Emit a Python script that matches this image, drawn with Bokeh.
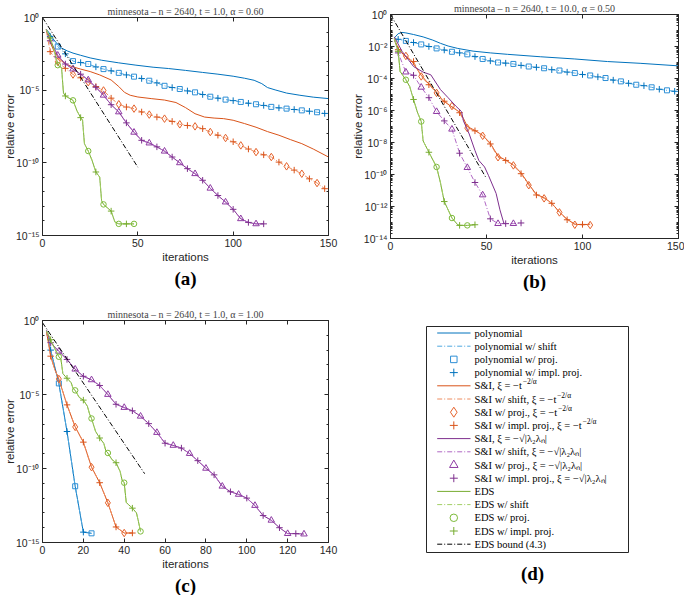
import math
from bokeh.plotting import figure
from bokeh.layouts import row, column
from bokeh.models import Range1d, FixedTicker, LinearAxis, Title, CustomJSTickFormatter
from bokeh.core.properties import value
from bokeh.embed import file_html
from bokeh.resources import INLINE

# ---------------- data (log10 of relative error) ----------------
A_TITLE = "minnesota – n = 2640, t = 1.0, α = 0.60"
B_TITLE = "minnesota – n = 2640, t = 10.0, α = 0.50"
C_TITLE = "minnesota – n = 2640, t = 1.0, α = 1.00"

# panel (a)
A_POLY_X = [2, 4, 6, 8, 10, 13, 16, 20, 25, 31, 40, 49, 58, 66, 75, 84, 92, 100, 106, 111, 115, 118, 122, 128, 135, 142, 150]
A_POLY_Y = [-0.8, -1.15, -1.55, -1.85, -2.1, -2.3, -2.45, -2.6, -2.78, -2.94, -3.12, -3.28, -3.42, -3.51, -3.64, -3.78, -3.9, -4.04, -4.18, -4.32, -4.55, -4.82, -4.98, -5.2, -5.35, -5.48, -5.58]
A_POLY_SX = [2] + list(range(4, 149, 4))
A_POLY_SY = [-0.8, -1.3, -2.0, -2.5, -3.0, -3.1, -3.2, -3.4, -3.55, -3.67, -3.81, -3.95, -4.07, -4.2, -4.35, -4.5, -4.7, -4.82, -4.92, -5.05, -5.15, -5.3, -5.45, -5.55, -5.65, -5.72, -5.81, -5.9, -5.97, -6.05, -6.15, -6.22, -6.27, -6.33, -6.39, -6.45, -6.52, -6.6]
A_SI_X = [2, 4, 6, 8, 10, 13, 16, 20, 25, 30, 36, 40, 43, 46, 50, 57, 64, 70, 75, 80, 85, 90, 95, 100, 106, 112, 118, 124, 130, 136, 142, 150]
A_SI_Y = [-0.85, -1.7, -2.3, -2.7, -3.0, -3.25, -3.4, -3.55, -3.72, -3.95, -4.3, -4.75, -5.15, -5.35, -5.47, -5.58, -5.68, -5.85, -6.2, -6.62, -6.85, -6.92, -6.96, -7.07, -7.3, -7.55, -7.85, -8.1, -8.4, -8.68, -9.05, -9.6]
A_SI_SX = [2] + list(range(4, 149, 4))
A_SI_SY = [-0.9, -2.35, -3.05, -3.5, -3.92, -4.15, -4.45, -4.75, -5.02, -5.55, -5.97, -6.16, -6.27, -6.5, -6.68, -6.85, -6.96, -7.15, -7.35, -7.43, -7.49, -7.65, -7.88, -8.1, -8.29, -8.55, -8.8, -9.05, -9.26, -9.45, -9.6, -9.95, -10.24, -10.5, -10.75, -11.1, -11.39, -11.78]
A_SQ_X = [2] + list(range(4, 117, 4))
A_SQ_Y = [-0.8, -1.6, -2.6, -3.2, -3.55, -3.9, -4.3, -4.8, -5.35, -6.0, -6.5, -7.25, -7.9, -8.45, -8.64, -8.9, -9.2, -9.6, -10.0, -10.4, -10.75, -11.2, -11.75, -12.25, -12.7, -13.2, -13.85, -14.1, -14.2, -14.2]
A_EDS_X = [2, 4, 6, 8, 10, 11, 12, 16, 18, 20, 21, 22, 24, 26, 28, 30, 31, 32, 36, 38, 40, 44, 48]
A_EDS_Y = [-0.83, -1.4, -2.2, -3.28, -3.45, -5.2, -5.4, -5.7, -6.4, -6.89, -7.07, -8.68, -9.19, -9.83, -10.63, -10.98, -12.6, -12.86, -13.32, -14.08, -14.2, -14.2, -14.2]
A_BOUND_X = [0, 50]
A_BOUND_Y = [0.0, -10.3]

# panel (b)
B_POLY_X = [2, 4, 6, 8, 12, 17, 22, 26, 30, 35, 43, 52, 61, 78, 96, 113, 130, 150]
B_POLY_Y = [-1.46, -1.2, -1.12, -1.15, -1.25, -1.4, -1.6, -1.8, -1.97, -2.12, -2.29, -2.4, -2.49, -2.64, -2.78, -2.94, -3.05, -3.21]
B_POLY_SX = [2] + list(range(4, 149, 4))
B_POLY_SY = [-1.5, -1.55, -1.65, -1.75, -1.87, -2.0, -2.12, -2.22, -2.33, -2.4, -2.49, -2.63, -2.78, -2.9, -3.0, -3.04, -3.09, -3.18, -3.25, -3.3, -3.36, -3.45, -3.5, -3.6, -3.66, -3.75, -3.81, -3.9, -3.97, -4.1, -4.18, -4.3, -4.39, -4.45, -4.55, -4.67, -4.74, -4.8]
B_SI_X = [2, 4, 7, 11, 16, 20, 24, 27, 31, 36, 38, 40, 44, 48, 52, 56, 60, 64, 68, 72, 76, 80, 84, 88, 92, 96, 100, 104]
B_SI_Y = [-1.55, -2.1, -2.55, -2.9, -3.8, -4.35, -4.85, -5.35, -5.7, -6.1, -6.5, -7.0, -7.25, -7.55, -8.05, -8.85, -9.1, -9.4, -9.9, -10.6, -11.25, -11.45, -11.8, -12.35, -12.8, -13.1, -13.15, -13.1]
B_SI_SX = [2] + list(range(4, 105, 4))
B_SI_SY = [-1.6, -2.2, -2.59, -2.94, -3.87, -4.39, -4.9, -5.42, -5.72, -6.14, -7.1, -7.27, -7.58, -8.09, -8.92, -9.12, -9.43, -9.95, -10.67, -11.28, -11.49, -11.8, -12.37, -12.83, -13.14, -13.12, -13.16]
B_SQ_X = [2, 6, 12, 17, 21, 26, 30, 34, 37, 38, 41, 44, 46, 49, 51, 55, 57, 59, 60]
B_SQ_Y = [-1.4, -2.3, -3.25, -3.6, -3.77, -4.69, -5.2, -5.72, -6.07, -6.65, -7.47, -8.5, -9.12, -9.53, -10.05, -11.18, -12.21, -13.03, -13.1]
B_SQ_SX = [2] + list(range(4, 69, 4))
B_SQ_SY = [-1.5, -2.4, -3.6, -3.8, -4.55, -5.2, -6.07, -6.65, -7.17, -8.67, -9.57, -10.5, -11.28, -12.77, -13.07, -13.07, -13.07, -13.03]
B_EDS_X = [2, 4, 5, 8, 10, 12, 14, 16, 17, 20, 24, 26, 28, 32, 35, 36, 40, 44]
B_EDS_Y = [-1.5, -2.3, -3.56, -4.08, -4.5, -5.31, -6.1, -6.69, -7.9, -8.61, -9.53, -10.5, -11.69, -12.72, -13.14, -13.18, -13.18, -13.14]
B_BOUND_X = [0, 50]
B_BOUND_Y = [0.0, -10.25]

# panel (c)
C_POLY_X = [2, 4, 8, 12, 16, 20, 24]
C_POLY_Y = [-0.75, -2.0, -4.25, -7.5, -11.2, -14.3, -14.38]
C_SI_X = [2, 4, 6, 8, 12, 16, 20, 24, 28, 32, 36, 40, 44]
C_SI_Y = [-0.77, -2.41, -3.3, -3.95, -5.7, -7.19, -8.22, -9.91, -10.96, -12.32, -13.95, -14.36, -14.36]
C_SQ_X = [2] + list(range(4, 129, 4))
C_SQ_Y = [-0.66, -1.5, -2.08, -2.63, -3.29, -3.77, -4.01, -4.39, -5.0, -5.66, -5.88, -6.1, -6.47, -6.97, -7.57, -8.29, -8.44, -8.62, -8.99, -9.47, -9.99, -10.43, -11.2, -11.57, -11.75, -12.0, -12.5, -13.18, -13.5, -14.0, -14.4, -14.4, -14.43]
C_EDS_X = [2, 4, 6, 8, 9, 10, 12, 14, 15, 16, 18, 20, 22, 23, 24, 26, 28, 30, 31, 32, 34, 36, 38, 39, 40, 41, 44, 46, 47, 48]
C_EDS_Y = [-0.7, -1.3, -1.9, -2.45, -2.6, -3.6, -3.9, -4.2, -4.6, -4.72, -5.2, -5.38, -5.8, -6.3, -6.62, -7.5, -7.94, -8.3, -8.8, -8.95, -9.4, -9.61, -10.2, -10.8, -10.96, -12.3, -12.68, -13.0, -13.6, -14.25]
C_BOUND_X = [0, 50]
C_BOUND_Y = [-0.15, -10.35]

# legend
LEG_LABELS = ["polynomial", "polynomial w/ shift", "polynomial w/ proj.", "polynomial w/ impl. proj.",
              "S&I, ξ = −t", "S&I w/ shift, ξ = −t", "S&I w/ proj., ξ = −t", "S&I w/ impl. proj., ξ = −t",
              "S&I, ξ = −√|λ₂λₙ|", "S&I w/ shift, ξ = −√|λ₂λₙ|", "S&I w/ proj., ξ = −√|λ₂λₙ|",
              "S&I w/ impl. proj., ξ = −√|λ₂λₙ|",
              "EDS", "EDS w/ shift", "EDS w/ proj.", "EDS w/ impl. proj.", "EDS bound (4.3)"]
LEG_SUP = ["", "", "", "", "−2/α", "−2/α", "−2/α", "−2/α", "", "", "", "", "", "", "", "", ""]
LEG_KIND = ["line", "dash", "square", "cross", "line", "dash", "diamond", "cross",
            "line", "dash", "triangle", "cross", "line", "dash", "circle", "cross", "dash"]

# ---------------- styles ----------------
BLUE, BLUE_L, BLUE_M = "#0072BD", "#4FA8E0", "#2E8FD6"
ORANGE, ORANGE_L, ORANGE_M = "#D95319", "#EE8C5E", "#E5612A"
PURPLE, PURPLE_L, PURPLE_M = "#7E2F8E", "#B067C4", "#8E3AA3"
GREEN, GREEN_L, GREEN_M = "#77AC30", "#A3CF66", "#7DBB3A"
LEG_COLOR = [BLUE, BLUE_L, BLUE_M, BLUE, ORANGE, ORANGE_L, ORANGE_M, ORANGE,
             PURPLE, PURPLE_L, PURPLE_M, PURPLE, GREEN, GREEN_L, GREEN_M, GREEN, "#000000"]
SANS = "Liberation Sans"
SERIF = "Liberation Serif"
AX = "#262626"
DASHDOT = "5 2 1 2"
MSIZE = {"square": 5, "diamond": 7.5, "triangle": 6.5, "circle": 5.5}


def exp_formatter():
    return CustomJSTickFormatter(code="""
        const m = {"-": "\u207b", "0": "\u2070", "1": "\u00b9", "2": "\u00b2", "3": "\u00b3",
                   "4": "\u2074", "5": "\u2075", "6": "\u2076", "7": "\u2077", "8": "\u2078", "9": "\u2079"};
        const s = String(Math.round(tick));
        let out = "10";
        for (const c of s) { out += m[c]; }
        return out;
    """)


def style_axis(ax, labels=True):
    ax.axis_line_color = AX
    ax.axis_line_width = 1
    ax.major_tick_line_color = AX
    ax.minor_tick_line_color = AX
    ax.major_tick_in = 4
    ax.major_tick_out = 0
    ax.minor_tick_in = 2
    ax.minor_tick_out = 0
    if labels:
        ax.major_label_text_font = SANS
        ax.major_label_text_font_size = "10.5px"
        ax.major_label_text_color = AX
        ax.major_label_standoff = 3
        ax.axis_label_text_font = SANS
        ax.axis_label_text_font_size = "11.5px"
        ax.axis_label_text_font_style = "normal"
        ax.axis_label_text_color = AX
        ax.axis_label_standoff = 1
    else:
        ax.formatter = CustomJSTickFormatter(code="return '';")
        ax.major_label_standoff = 0


def make_panel(title, caption, xmax, xticks, ymin, ymajor, yminor, groups, bound,
               width, height, borders):
    p = figure(width=width, height=height, x_range=Range1d(0, xmax), y_range=Range1d(ymin, 0),
               output_backend="svg", toolbar_location=None,
               min_border_left=borders[0], min_border_right=borders[1],
               min_border_top=borders[2], min_border_bottom=borders[3])
    p.grid.visible = False
    p.outline_line_color = None
    p.title.text = title
    p.title.align = "center"
    p.title.text_font = SERIF
    p.title.text_font_size = "10px"
    p.title.text_font_style = "normal"
    p.title.standoff = 1
    xa = p.xaxis[0]
    ya = p.yaxis[0]
    xa.ticker = FixedTicker(ticks=xticks, minor_ticks=[])
    ya.ticker = FixedTicker(ticks=ymajor, minor_ticks=yminor)
    ya.formatter = exp_formatter()
    style_axis(xa)
    style_axis(ya)
    xa.axis_label = "iterations"
    ya.axis_label = "relative error"
    ya.axis_label_standoff = -3
    top = LinearAxis(ticker=FixedTicker(ticks=xticks, minor_ticks=[]))
    right = LinearAxis(ticker=FixedTicker(ticks=ymajor, minor_ticks=yminor))
    style_axis(top, labels=False)
    style_axis(right, labels=False)
    p.add_layout(top, "above")
    p.add_layout(right, "right")

    for sx, sy, hx, hy, col, light, mcol, marker in groups:
        p.line(sx, sy, line_color=col, line_width=1)
        p.line(hx, hy, line_color=light, line_width=1, line_dash=DASHDOT)
        proj = [(x, y) for x, y in zip(hx, hy) if x >= 8 and x % 8 == 0]
        impl = [(x, y) for x, y in zip(hx, hy) if x % 8 == 4]
        p.scatter([q[0] for q in proj], [q[1] for q in proj], marker=marker, size=MSIZE[marker],
                  line_color=mcol, fill_color=None, line_width=1)
        p.scatter([q[0] for q in impl], [q[1] for q in impl], marker="cross", size=6.5,
                  line_color=col, line_width=1)
    p.line(bound[0], bound[1], line_color="black", line_width=1, line_dash=DASHDOT)

    p.add_layout(Title(text=caption, align="center", text_font=SERIF, text_font_size="19px",
                       text_font_style="bold", text_color="black", standoff=0), "below")
    return p


dec15 = list(range(-15, 1))
pa = make_panel(A_TITLE, "(a)", 150, [0, 50, 100, 150], -15, [-15, -10, -5, 0], dec15,
                [(A_POLY_X, A_POLY_Y, A_POLY_SX, A_POLY_SY, BLUE, BLUE_L, BLUE_M, "square"),
                 (A_SI_X, A_SI_Y, A_SI_SX, A_SI_SY, ORANGE, ORANGE_L, ORANGE_M, "diamond"),
                 (A_SQ_X, A_SQ_Y, A_SQ_X, A_SQ_Y, PURPLE, PURPLE_L, PURPLE_M, "triangle"),
                 (A_EDS_X, A_EDS_Y, A_EDS_X, A_EDS_Y, GREEN, GREEN_L, GREEN_M, "circle")],
                (A_BOUND_X, A_BOUND_Y), 340, 291, (40, 12, 17, 56))

logminor = [k + math.log10(m) for k in range(-14, 0) for m in range(1, 10)] + [0]
pb = make_panel(B_TITLE, "(b)", 150, [0, 50, 100, 150], -14, list(range(-14, 1, 2)), logminor,
                [(B_POLY_X, B_POLY_Y, B_POLY_SX, B_POLY_SY, BLUE, BLUE_L, BLUE_M, "square"),
                 (B_SI_X, B_SI_Y, B_SI_SX, B_SI_SY, ORANGE, ORANGE_L, ORANGE_M, "diamond"),
                 (B_SQ_X, B_SQ_Y, B_SQ_SX, B_SQ_SY, PURPLE, PURPLE_L, PURPLE_M, "triangle"),
                 (B_EDS_X, B_EDS_Y, B_EDS_X, B_EDS_Y, GREEN, GREEN_L, GREEN_M, "circle")],
                (B_BOUND_X, B_BOUND_Y), 344, 291, (50, 6, 12, 52))

pc = make_panel(C_TITLE, "(c)", 140, list(range(0, 141, 20)), -15, [-15, -10, -5, 0], dec15,
                [(C_POLY_X, C_POLY_Y, C_POLY_X, C_POLY_Y, BLUE, BLUE_L, BLUE_M, "square"),
                 (C_SI_X, C_SI_Y, C_SI_X, C_SI_Y, ORANGE, ORANGE_L, ORANGE_M, "diamond"),
                 (C_SQ_X, C_SQ_Y, C_SQ_X, C_SQ_Y, PURPLE, PURPLE_L, PURPLE_M, "triangle"),
                 (C_EDS_X, C_EDS_Y, C_EDS_X, C_EDS_Y, GREEN, GREEN_L, GREEN_M, "circle")],
                (C_BOUND_X, C_BOUND_Y), 340, 304, (40, 12, 29, 51))
pc.xaxis[0].major_label_standoff = 3
pc.xaxis[0].axis_label_standoff = 0

# ---------------- legend panel (d), drawn in page pixel coordinates ----------------
W_TIMES = {" ": 250, "&": 778, ",": 250, ".": 250, "/": 278, "=": 564, "−": 564, "I": 333, "S": 556,
           "a": 444, "f": 333, "h": 500, "i": 278, "j": 278, "l": 278, "m": 778, "o": 500, "p": 500,
           "r": 333, "s": 389, "t": 278, "w": 722, "ξ": 440}
LFS = 10.5
pd = figure(width=344, height=304, x_range=Range1d(390, 678), y_range=Range1d(595, 291),
            output_backend="svg", toolbar_location=None,
            min_border_left=50, min_border_right=6, min_border_top=0, min_border_bottom=0)
pd.axis.visible = False
pd.grid.visible = False
pd.outline_line_color = None
pd.quad(left=[426], right=[628], top=[326], bottom=[552], fill_color=None, line_color=AX, line_width=1)
ys = [332.5 + 13.2 * i for i in range(len(LEG_LABELS))]
for kind, dash in (("line", "solid"), ("dash", DASHDOT)):
    idx = [i for i, k in enumerate(LEG_KIND) if k == kind]
    pd.segment(x0=[436.7] * len(idx), x1=[470] * len(idx), y0=[ys[i] for i in idx], y1=[ys[i] for i in idx],
               line_color=[LEG_COLOR[i] for i in idx], line_width=1, line_dash=dash)
LMS = {"square": 6.5, "diamond": 10, "triangle": 8.5, "circle": 7.5, "cross": 8}
midx = [i for i, k in enumerate(LEG_KIND) if k not in ("line", "dash")]
pd.scatter(x=[453.3] * len(midx), y=[ys[i] for i in midx], marker=[LEG_KIND[i] for i in midx],
           size=[LMS[LEG_KIND[i]] for i in midx], line_color=[LEG_COLOR[i] for i in midx],
           fill_color=None, line_width=1)
pd.text(x=[474] * len(LEG_LABELS), y=ys, text=LEG_LABELS, text_font=value(SERIF),
        text_font_size=f"{LFS}px", text_baseline="middle", text_align="left", text_color="black")
sidx = [i for i, s in enumerate(LEG_SUP) if s]
sup_x = [474 + sum(W_TIMES.get(c, 500) for c in LEG_LABELS[i]) * LFS / 1000 + 0.8 for i in sidx]
pd.text(x=sup_x, y=[ys[i] - 4 for i in sidx], text=[LEG_SUP[i] for i in sidx], text_font=value(SERIF),
        text_font_size="7.5px", text_baseline="middle", text_align="left", text_color="black")
pd.text(x=[532], y=[573], text=["(d)"], text_font=value(SERIF), text_font_size="19px",
        text_font_style="bold", text_baseline="middle", text_align="center", text_color="black")

layout = row(column(pa, pc), column(pb, pd))
open("out.html", "w").write(file_html(layout, INLINE))
